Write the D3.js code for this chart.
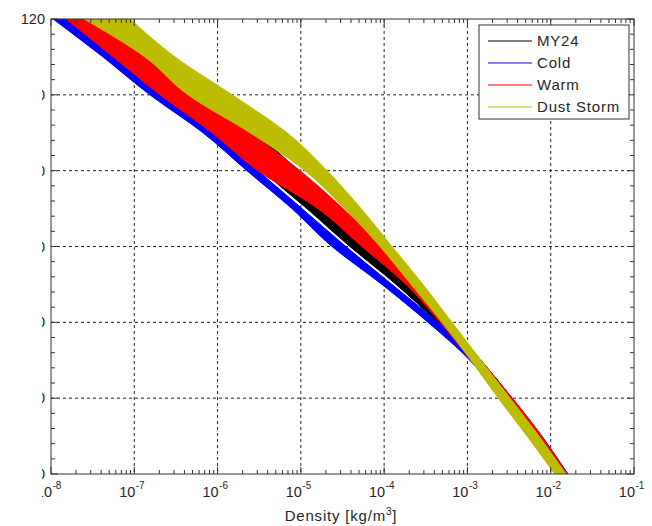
<html>
<head>
<script src="https://d3js.org/d3.v7.min.js"></script>
<style>
body { margin: 0; padding: 0; background: #fff; }
svg { display: block; }
text { font-family: "Liberation Sans", Arial, sans-serif; fill: #262626; }
.frame { fill: none; stroke: #333; stroke-width: 1; }
.grid line { stroke: #222; stroke-width: 1; stroke-dasharray: 3,3; }
.tick-m { stroke: #333; stroke-width: 1; }
</style>
</head>
<body>
<script>
// altitude levels (km) and density envelopes (kg/m3)
var alt = [0, 10, 20, 30, 40, 50, 60, 70, 80, 90, 100, 110, 120];

var my24Lo = [1.16e-2, 5.4e-3, 2.45e-3, 1.10e-3, 4.31e-4, 1.39e-4, 3.88e-5, 1.18e-5, 3.41e-6, 1.07e-6, 2.04e-7, 5.4e-8, 1.4e-8];
var my24Hi = [1.53e-2, 7.5e-3, 3.4e-3, 1.45e-3, 5.68e-4, 2.28e-4, 7.3e-5, 2.43e-5, 9.2e-6, 2.74e-6, 4.93e-7, 1.5e-7, 2.9e-8];

var coldLo = [1.22e-2, 5.6e-3, 2.5e-3, 1.07e-3, 3.36e-4, 9.4e-5, 2.36e-5, 7.8e-6, 2.25e-6, 6.68e-7, 1.54e-7, 4.2e-8, 1.06e-8];
var coldHi = [1.61e-2, 7.8e-3, 3.45e-3, 1.41e-3, 4.43e-4, 1.24e-4, 3.47e-5, 1.03e-5, 3.05e-6, 9.05e-7, 2.15e-7, 5.9e-8, 1.6e-8];

var warmLo = [1.19e-2, 5.6e-3, 2.5e-3, 1.10e-3, 4.68e-4, 1.83e-4, 5.4e-5, 1.6e-5, 3.05e-6, 8.57e-7, 2.04e-7, 5.6e-8, 1.51e-8];
var warmHi = [1.57e-2, 7.8e-3, 3.45e-3, 1.45e-3, 6.17e-4, 2.55e-4, 9.2e-5, 3.2e-5, 9.75e-6, 2.45e-6, 4.93e-7, 1.46e-7, 2.78e-8];

var dustLo = [1.12e-2, 5.2e-3, 2.35e-3, 1.10e-3, 4.94e-4, 2.1e-4, 8.9e-5, 3.38e-5, 1.12e-5, 2.45e-6, 4.41e-7, 1.34e-7, 2.49e-8];
var dustHi = [1.53e-2, 7.2e-3, 3.25e-3, 1.45e-3, 6.5e-4, 2.92e-4, 1.24e-4, 5.27e-5, 2.06e-5, 6.8e-6, 1.49e-6, 3.08e-7, 8.9e-8];

var seriesNames = ["MY24", "Cold", "Warm", "Dust Storm"];
var seriesColors = ["#000000", "#0000ff", "#ff0000", "#bcbc00"];
var seriesLo = [my24Lo, coldLo, warmLo, dustLo];
var seriesHi = [my24Hi, coldHi, warmHi, dustHi];

var xTicks = [1e-8, 1e-7, 1e-6, 1e-5, 1e-4, 1e-3, 1e-2, 1e-1];
var yTicks = [0, 20, 40, 60, 80, 100, 120];

var W = 652, H = 526;
var pL = 51, pR = 634, pT = 19, pB = 474;

var svg = d3.select("body").append("svg")
    .attr("width", W)
    .attr("height", H);

var x = d3.scaleLog().domain([1e-8, 1e-1]).range([pL, pR]);
var y = d3.scaleLinear().domain([0, 120]).range([pB, pT]);

var defs = svg.append("defs");
defs.append("clipPath").attr("id", "plotclip")
    .append("rect").attr("x", pL).attr("y", pT)
    .attr("width", pR - pL).attr("height", pB - pT);
// the left edge of the original picture is cut off
defs.append("clipPath").attr("id", "labelclip")
    .append("rect").attr("x", 42).attr("y", 28)
    .attr("width", W).attr("height", H);

// grid
var grid = svg.append("g").attr("class", "grid");
xTicks.slice(1, -1).forEach(function (t) {
    grid.append("line").attr("x1", x(t)).attr("x2", x(t)).attr("y1", pT).attr("y2", pB);
});
yTicks.slice(1, -1).forEach(function (t) {
    grid.append("line").attr("x1", pL).attr("x2", pR).attr("y1", y(t)).attr("y2", y(t));
});

// bands
var bands = svg.append("g").attr("clip-path", "url(#plotclip)");
seriesNames.forEach(function (name, i) {
    var pts = alt.map(function (a, k) { return { a: a, lo: seriesLo[i][k], hi: seriesHi[i][k] }; });
    var area = d3.area()
        .y(function (d) { return y(d.a); })
        .x0(function (d) { return x(d.lo); })
        .x1(function (d) { return x(d.hi); })
        .curve(d3.curveMonotoneY);
    bands.append("path")
        .attr("d", area(pts))
        .attr("fill", seriesColors[i])
        .attr("stroke", seriesColors[i])
        .attr("stroke-width", 1);
});

// ticks (inward, all four sides)
var ticks = svg.append("g");
var minorX = [];
for (var e = -8; e < -1; e++) {
    for (var m = 2; m <= 9; m++) minorX.push(m * Math.pow(10, e));
}
minorX.forEach(function (t) {
    ticks.append("line").attr("class", "tick-m").attr("x1", x(t)).attr("x2", x(t)).attr("y1", pB).attr("y2", pB - 4);
    ticks.append("line").attr("class", "tick-m").attr("x1", x(t)).attr("x2", x(t)).attr("y1", pT).attr("y2", pT + 4);
});
xTicks.forEach(function (t) {
    ticks.append("line").attr("class", "tick-m").attr("x1", x(t)).attr("x2", x(t)).attr("y1", pB).attr("y2", pB - 7);
    ticks.append("line").attr("class", "tick-m").attr("x1", x(t)).attr("x2", x(t)).attr("y1", pT).attr("y2", pT + 7);
});
d3.range(0, 121, 4).forEach(function (t) {
    var len = (t % 20 === 0) ? 7 : 4;
    ticks.append("line").attr("class", "tick-m").attr("x1", pL).attr("x2", pL + len).attr("y1", y(t)).attr("y2", y(t));
    ticks.append("line").attr("class", "tick-m").attr("x1", pR).attr("x2", pR - len).attr("y1", y(t)).attr("y2", y(t));
});

svg.append("rect").attr("class", "frame")
    .attr("x", pL).attr("y", pT)
    .attr("width", pR - pL).attr("height", pB - pT);

// y labels
var ylab = svg.append("g").attr("font-size", "14.5px");
yTicks.forEach(function (t) {
    var txt = ylab.append("text")
        .attr("x", 45).attr("y", y(t) + 5)
        .attr("text-anchor", "end")
        .text(t);
    if (t !== 120) txt.attr("clip-path", "url(#labelclip)");
});

// x labels 10^n
var xlab = svg.append("g").attr("clip-path", "url(#labelclip)");
xTicks.forEach(function (t) {
    var px = x(t);
    xlab.append("text")
        .attr("x", px + 1).attr("y", 497)
        .attr("text-anchor", "end")
        .attr("font-size", "14.5px")
        .text("10");
    xlab.append("text")
        .attr("x", px + 1.5).attr("y", 489)
        .attr("font-size", "10px")
        .text(Math.round(Math.log10(t)));
});

// x title
var title = svg.append("text")
    .attr("x", 341).attr("y", 521)
    .attr("text-anchor", "middle")
    .attr("font-size", "15px")
    .attr("letter-spacing", "0.8px");
title.append("tspan").text("Density [kg/m");
title.append("tspan").attr("dy", -6).attr("font-size", "10px").text("3");
title.append("tspan").attr("dy", 6).text("]");

// legend
var lg = svg.append("g");
lg.append("rect")
    .attr("x", 479).attr("y", 25)
    .attr("width", 150).attr("height", 94)
    .attr("fill", "#fff").attr("stroke", "#333");
seriesNames.forEach(function (name, i) {
    var ly = 41 + i * 22;
    lg.append("line")
        .attr("x1", 488).attr("x2", 532)
        .attr("y1", ly).attr("y2", ly)
        .attr("stroke", seriesColors[i]).attr("stroke-width", 1);
    lg.append("text")
        .attr("x", 537).attr("y", ly + 5)
        .attr("font-size", "15px")
        .attr("letter-spacing", "0.8px")
        .text(name);
});
</script>
</body>
</html>
